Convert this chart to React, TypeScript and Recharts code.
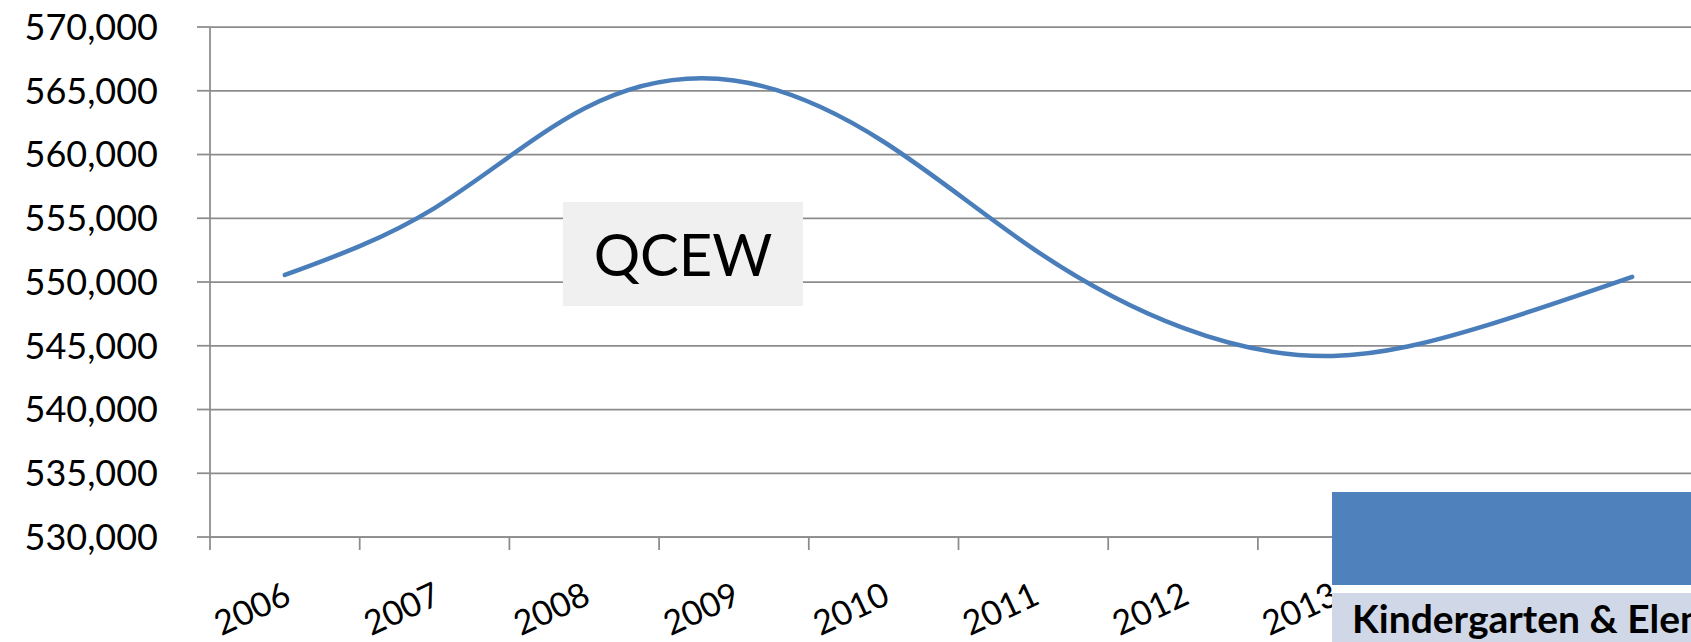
import { LineChart, Line, XAxis, YAxis, CartesianGrid } from "recharts";

// QCEW employment, Kindergarten & Elementary Schools
const years = ["2006", "2007", "2008", "2009", "2010", "2011", "2012", "2013", "2014", "2015"];
const employment = [550550, 555800, 563600, 565800, 561000, 552600, 546400, 544200, 546500, 550400];
const yTicks = [530000, 535000, 540000, 545000, 550000, 555000, 560000, 565000, 570000];
const seriesLabel = "QCEW";
const title = "Kindergarten & Elementary Schools";

const data = years.map((year, i) => ({ idx: i, year, value: employment[i] }));

// tick at every category center (label) and every boundary (tick mark)
const xTicks: number[] = [];
for (let i = 0; i <= years.length * 2; i++) xTicks.push(i / 2 - 0.5);

const GRID = "#8c8c8c";

const YearTick = (props: any) => {
  const { x, y, payload } = props;
  const v = payload.value;
  if (!Number.isInteger(v)) {
    return <line x1={x} y1={y} x2={x} y2={y + 13} stroke={GRID} strokeWidth={1.75} />;
  }
  const tx = x + 8;
  const ty = y + 66;
  return (
    <text
      x={tx}
      y={ty}
      textAnchor="end"
      fontSize={34}
      fill="#000"
      transform={`rotate(-25, ${tx}, ${ty})`}
    >
      {years[v]}
    </text>
  );
};

export default function App() {
  return (
    <div
      style={{
        position: "absolute",
        left: 0,
        top: 0,
        width: 1691,
        height: 642,
        overflow: "hidden",
        background: "#fff",
        fontFamily: "Lato, sans-serif",
      }}
    >
      <LineChart
        width={1707}
        height={642}
        data={data}
        margin={{ top: 27, right: 0, left: 0, bottom: 0 }}
      >
        <CartesianGrid horizontal vertical={false} stroke={GRID} strokeWidth={1.75} />
        <XAxis
          type="number"
          dataKey="idx"
          domain={[-0.5, years.length - 0.5]}
          ticks={xTicks}
          interval={0}
          tickLine={false}
          tickSize={0}
          tickMargin={0}
          tick={<YearTick />}
          axisLine={{ stroke: GRID, strokeWidth: 1.75 }}
          height={105}
        />
        <YAxis
          domain={[530000, 570000]}
          ticks={yTicks}
          interval={0}
          width={210}
          tickSize={13}
          tickMargin={39}
          tickLine={{ stroke: GRID, strokeWidth: 1.75 }}
          axisLine={{ stroke: GRID, strokeWidth: 1.75 }}
          tick={{ fill: "#000", fontSize: 36 }}
          tickFormatter={(v: number) => v.toLocaleString("en-US")}
        />
        <Line
          type="natural"
          dataKey="value"
          stroke="#4a7ebb"
          strokeWidth={4.5}
          strokeLinecap="round"
          dot={false}
          activeDot={false}
          isAnimationActive={false}
        />
      </LineChart>

      <div
        style={{
          position: "absolute",
          left: 563,
          top: 202,
          width: 240,
          height: 104,
          background: "#f0f0f0",
          textAlign: "center",
          lineHeight: "104px",
          fontSize: 58,
          color: "#000",
        }}
      >
        {seriesLabel}
      </div>

      {/* title banner covering the lower right corner */}
      <div
        style={{
          position: "absolute",
          left: 1332,
          top: 492,
          width: 359,
          height: 150,
          background: "#fff",
        }}
      >
        <div style={{ height: 93, background: "#4f81bd" }} />
        <div
          style={{
            marginTop: 8,
            height: 49,
            background: "#d0d8e8",
            paddingLeft: 20,
            boxSizing: "border-box",
            whiteSpace: "nowrap",
            overflow: "hidden",
            fontWeight: 700,
            fontSize: 39,
            lineHeight: "50px",
            color: "#000",
          }}
        >
          {title}
        </div>
      </div>
    </div>
  );
}
